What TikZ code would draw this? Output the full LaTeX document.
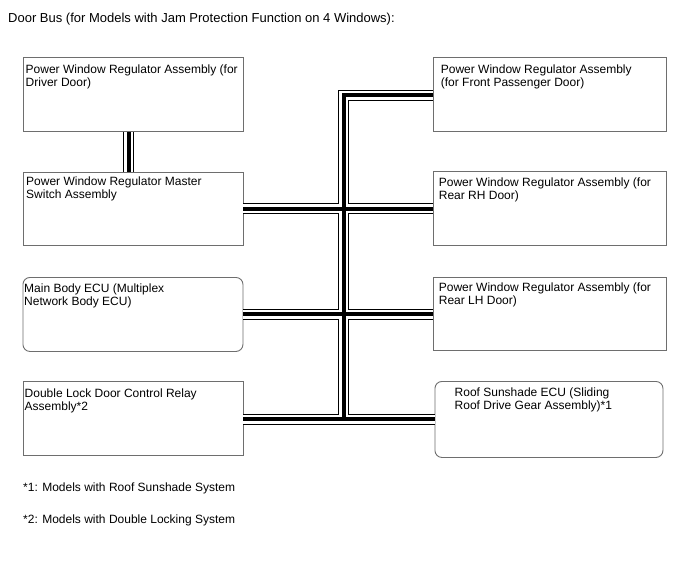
\documentclass[tikz,border=0pt]{standalone}
\usepackage{fontspec}
\setmainfont{Liberation Sans}
\usetikzlibrary{calc}
\begin{document}
\begin{tikzpicture}[x=1pt,y=-1pt,
  box/.style={draw={rgb,255:red,110;green,110;blue,110}, line width=0.9pt, rectangle, inner sep=0pt},
  rbox/.style={box, rounded corners=7pt},
  txt/.style={anchor=base west, align=left, inner sep=0pt, font=\fontsize{12}{13}\selectfont},
  busout/.style={line width=11pt, black, line join=miter},
  busmid/.style={line width=9pt, white, line join=miter},
  buscore/.style={line width=4pt, black, line join=miter}]
\useasboundingbox (0,0) rectangle (688,560);
\fill[white] (0,0) rectangle (688,560);

\node[txt, font=\fontsize{13}{15}\selectfont] (title) at (8,22) {Door Bus (for Models with Jam Protection Function on 4 Windows):};

% boxes
\node[box, anchor=north west, minimum width=220pt, minimum height=74.6pt] (L1) at (22.5,56.7) {};
\node[box, anchor=north west, minimum width=220pt, minimum height=73.5pt] (L2) at (22.5,171.5) {};
\node[rbox, anchor=north west, minimum width=220pt, minimum height=74pt] (L3) at (22.5,277) {};
\node[box, anchor=north west, minimum width=220pt, minimum height=74pt] (L4) at (22.5,381) {};
\node[box, anchor=north west, minimum width=233.3pt, minimum height=74pt] (R1) at (432.7,56.7) {};
\node[box, anchor=north west, minimum width=233.3pt, minimum height=74pt] (R2) at (432.7,171) {};
\node[box, anchor=north west, minimum width=233.3pt, minimum height=73pt] (R3) at (432.7,277) {};
\node[rbox, anchor=north west, minimum width=228pt, minimum height=76pt] (R4) at (434.5,381) {};

% texts (base anchor = last line baseline)
\node[txt] (t1) at ($(L1.north west)+(3,30)$) {Power Window Regulator Assembly (for\\Driver Door)};
\node[txt] (t2) at ($(L2.north west)+(3.5,27)$) {Power Window Regulator Master\\Switch Assembly};
\node[txt] (t3) at ($(L3.north west)+(1.5,28.5)$) {Main Body ECU (Multiplex\\Network Body ECU)};
\node[txt] (t4) at ($(L4.north west)+(2,29)$) {Double Lock Door Control Relay\\Assembly*2};
\node[txt] (t5) at ($(R1.north west)+(8,29.5)$) {Power Window Regulator Assembly\\(for Front Passenger Door)};
\node[txt] (t6) at ($(R2.north west)+(6,28)$) {Power Window Regulator Assembly (for\\Rear RH Door)};
\node[txt] (t7) at ($(R3.north west)+(6,27.5)$) {Power Window Regulator Assembly (for\\Rear LH Door)};
\node[txt] (t8) at ($(R4.north west)+(20,28.7)$) {Roof Sunshade ECU (Sliding\\Roof Drive Gear Assembly)*1};

\node[txt] (f1) at (23,491) {*1: Models with Roof Sunshade System};
\node[txt] (f2) at (23,523) {*2: Models with Double Locking System};

% bus junction coordinates
\coordinate (top) at (343.5,95.2);
\coordinate (j2) at (343.5,208.5);
\coordinate (j3) at (343.5,314);
\coordinate (j4) at (343.5,419.3);

\foreach \s in {busout,busmid,buscore}{
  \draw[\s] (L1.south -| 128.8,0) -- (L2.north -| 128.8,0);
  \draw[\s] (R1.west |- top) -- (top) -- (j4);
  \draw[\s] (L2.east |- j2) -- (R2.west |- j2);
  \draw[\s] (L3.east |- j3) -- (R3.west |- j3);
  \draw[\s] (L4.east |- j4) -- (R4.west |- j4);
}
\end{tikzpicture}
\end{document}
